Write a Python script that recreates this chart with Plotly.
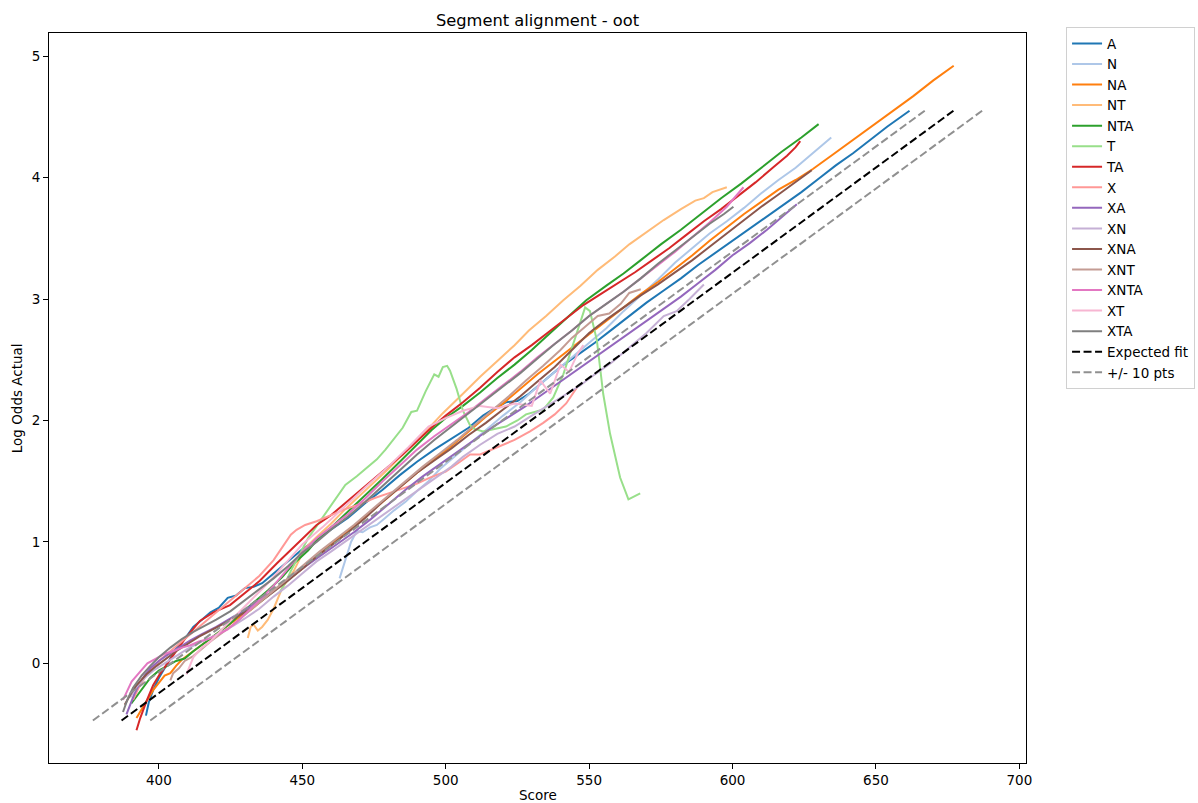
import plotly.graph_objects as go

# ---------------- data (score, log odds actual) ----------------
A_pts = [(395.5,-0.43),(396.5,-0.32),(398,-0.22),(400,-0.12),(402,-0.04),(404,0.04),(406,0.12),(409,0.20),
         (412,0.30),(415,0.36),(418,0.42),(421,0.46),(424,0.54),(427,0.56),(430,0.62),(433,0.63),(436,0.66),
         (440,0.74),(445,0.84),(450,0.94),(455,1.02),(460,1.10),(466,1.20),(472,1.32),(478,1.43),(484,1.55),
         (490,1.66),(496,1.76),(502,1.85),(508,1.94),(513,2.04),(517,2.10),(521,2.15),(525,2.16),(529,2.22),
         (534,2.32),(540,2.44),(546,2.54),(552,2.64),(558,2.75),(564,2.86),(570,2.97),(576,3.07),(582,3.17),
         (588,3.28),(594,3.38),(600,3.48),(606,3.58),(612,3.68),(618,3.78),(624,3.88),(630,3.99),(636,4.10),
         (642,4.20),(648,4.31),(654,4.42),(661.7,4.55)]
N_pts = [(463,0.70),(464,0.78),(465.5,0.90),(467,1.00),(469,1.09),(471,1.08),(473.6,1.12),(476,1.14),
         (479,1.20),(482,1.26),(486,1.33),(490,1.42),(494,1.50),(498,1.60),(502,1.68),(506,1.76),(510,1.84),
         (515,1.94),(520,2.04),(526,2.15),(532,2.28),(538,2.40),(544,2.52),(550,2.64),(556,2.76),(562,2.90),
         (568,3.03),(574,3.16),(580,3.30),(586,3.42),(592,3.54),(598,3.64),(604,3.75),(610,3.87),(616,3.98),
         (622,4.08),(628,4.20),(634.4,4.33)]
NA_pts = [(392.2,-0.45),(393.5,-0.40),(395.7,-0.31),(398,-0.22),(400,-0.16),(402,-0.10),(404,-0.08),(406,-0.02),
          (408,0.03),(410.2,0.07),(413,0.12),(416,0.17),(420,0.24),(424,0.31),(428,0.38),(432,0.44),(436,0.52),
          (440,0.60),(445,0.69),(450,0.78),(455,0.88),(460,0.98),(466,1.09),(472,1.21),(478,1.33),(484,1.45),
          (490,1.57),(496,1.68),(502,1.79),(508,1.91),(514,2.03),(520,2.14),(526,2.26),(532,2.38),(538,2.49),
          (544,2.60),(550,2.71),(556,2.82),(562,2.93),(568,3.04),(574,3.14),(580,3.25),(586,3.36),(592,3.48),
          (598,3.59),(604,3.70),(610,3.80),(616,3.90),(622,3.98),(628,4.07),(635,4.19),(642,4.31),(649,4.43),
          (656,4.55),(663,4.67),(670,4.80),(677.1,4.92)]
NT_pts = [(431,0.21),(432,0.30),(433,0.32),(434.5,0.27),(436,0.30),(438,0.36),(440,0.45),(443,0.62),
          (447,0.76),(451,0.95),(455,1.04),(460,1.15),(465,1.27),(470,1.38),(475,1.49),(480,1.60),(485,1.72),
          (490,1.83),(495,1.96),(499,2.06),(506,2.22),(512,2.36),(518,2.49),(524,2.62),(529,2.74),(535,2.86),
          (541,2.99),(547,3.11),(553,3.24),(559,3.35),(564,3.45),(570,3.55),(576,3.65),(582,3.74),(587,3.81),
          (590,3.83),(593,3.88),(598,3.92)]
NTA_pts = [(390.4,-0.33),(392,-0.28),(394,-0.22),(397,-0.12),(400,-0.06),(403,-0.02),(406,0.02),(409,0.04),
           (412,0.10),(416,0.17),(420,0.24),(425,0.33),(429,0.42),(434,0.52),(438,0.60),(443,0.71),(447,0.82),
           (452,0.93),(456,1.04),(461,1.14),(466,1.25),(472,1.38),(478,1.52),(484,1.66),(490,1.80),(495,1.92),
           (500,2.02),(506,2.12),(512,2.23),(518,2.35),(524,2.46),(530,2.58),(535,2.69),(542,2.84),(549,2.99),
           (556,3.11),(562,3.21),(568,3.32),(575,3.45),(582,3.57),(589,3.70),(596,3.83),(603,3.95),(610,4.08),
           (617,4.21),(624,4.33),(630,4.44)]
T_pts = [(442,0.58),(444,0.66),(446,0.76),(449,0.90),(452,1.03),(455,1.13),(458,1.23),(462,1.36),(465,1.47),
         (469,1.54),(472,1.60),(476,1.68),(479,1.76),(482,1.85),(485,1.94),(488,2.07),(490,2.08),(493,2.24),
         (496,2.38),(497.5,2.36),(499,2.44),(500.5,2.45),(501.5,2.41),(503.8,2.26),(506,2.08),(508.5,1.96),
         (510,1.93),(513,1.91),(517,1.93),(521,1.95),(525,2.00),(528,2.05),(534,2.09),(537.5,2.19),(541,2.38),
         (544.5,2.63),(547.4,2.85),(548.6,2.93),(550.3,2.90),(552.7,2.66),(554.9,2.22),(557.3,1.89),
         (560.8,1.53),(563.7,1.35),(567.8,1.40)]
TA_pts = [(392.2,-0.55),(393.5,-0.45),(395.7,-0.31),(398,-0.18),(400.3,-0.09),(403,0.00),(405,0.07),(409,0.20),
          (414.3,0.35),(419,0.42),(424.8,0.48),(430,0.58),(435.2,0.68),(441,0.82),(446.8,0.95),(451,1.05),
          (455,1.14),(460,1.22),(465,1.32),(470,1.42),(475,1.52),(480,1.62),(485,1.72),(490,1.83),(495,1.94),
          (500,2.04),(506,2.15),(512,2.27),(518,2.40),(524,2.52),(530,2.62),(536,2.73),(542,2.84),(548,2.95),
          (554,3.04),(560,3.13),(566,3.22),(572,3.32),(578,3.42),(584,3.53),(590,3.64),(596,3.74),(602,3.85),
          (608,3.96),(614,4.08),(619,4.18),(622,4.25),(623.6,4.30)]
X_pts = [(391,-0.30),(393,-0.20),(396,-0.08),(400,0.02),(405,0.12),(410,0.22),(415,0.32),(420,0.42),(425,0.52),
         (430,0.62),(435,0.72),(440,0.85),(443,0.95),(446,1.06),(448,1.10),(451,1.14),(455,1.17),(460,1.22),
         (465,1.27),(470,1.31),(475,1.36),(480,1.40),(485,1.44),(490,1.48),(494.5,1.53),(500,1.58),(505,1.66),
         (508.5,1.72),(512,1.72),(516,1.76),(520,1.80),(524,1.84),(529.4,1.91),(534,1.98),(538,2.05),(542,2.14),
         (545.7,2.27)]
XA_pts = [(388.7,-0.42),(390,-0.34),(391.5,-0.25),(393,-0.18),(395,-0.10),(397,-0.04),(400,0.02),(403,0.07),
          (407,0.13),(411,0.19),(415,0.24),(420,0.30),(425,0.37),(430,0.44),(435,0.52),(440,0.60),(445,0.69),
          (450,0.78),(456,0.88),(462,0.98),(468,1.08),(474,1.19),(480,1.31),(486,1.43),(492,1.54),(498,1.64),
          (504,1.74),(510,1.84),(516,1.94),(522,2.03),(528,2.12),(534,2.22),(540,2.32),(546,2.42),(552,2.52),
          (558,2.62),(564,2.72),(570,2.82),(576,2.92),(582,3.02),(588,3.13),(594,3.24),(600,3.36),(606,3.46),
          (612,3.57),(618,3.69),(622.4,3.78)]
XN_pts = [(390,-0.28),(392,-0.20),(395,-0.12),(398,-0.06),(402,0.00),(406,0.06),(410,0.12),(414,0.17),(418,0.21),
          (422,0.26),(426,0.31),(430,0.37),(435,0.45),(440,0.55),(445,0.64),(450,0.74),(455,0.84),(460,0.92),
          (466,1.02),(472,1.12),(478,1.22),(484,1.32),(490,1.42),(496,1.52),(502,1.62),(506,1.70),(512,1.80),
          (518,1.89),(524,1.95),(530,2.04),(536,2.13),(542,2.22),(547,2.29),(552,2.38),(558,2.48),(564,2.60),
          (570,2.72),(576,2.86),(580.5,2.90),(585,3.00),(590,3.12)]
XNA_pts = [(388.1,-0.34),(390,-0.26),(392.2,-0.18),(395.7,-0.09),(399.2,-0.02),(402.7,0.04),(406,0.10),(410,0.16),
           (414,0.22),(418,0.27),(422,0.32),(426,0.37),(430,0.42),(435,0.50),(440,0.59),(445,0.68),(450,0.78),
           (455,0.88),(460,0.97),(466,1.08),(472,1.20),(478,1.33),(484,1.45),(490,1.57),(496,1.67),(502,1.77),
           (508,1.88),(514,1.98),(520,2.09),(526,2.20),(532,2.32),(538,2.44),(544,2.58),(550,2.72),(556,2.83),
           (562,2.93),(568,3.03),(574,3.12),(580,3.22),(586,3.32),(592,3.43),(598,3.54),(604,3.65),(610,3.76),
           (616,3.86),(622,3.96),(627.6,4.06)]
XNT_pts = [(404,-0.14),(405,-0.08),(407,-0.04),(409,0.02),(412,0.06),(415,0.12),(418,0.18),(422,0.25),(426,0.32),
           (430,0.40),(435,0.50),(440,0.60),(445,0.70),(450,0.80),(456,0.92),(462,1.03),(468,1.14),(474,1.26),
           (480,1.38),(486,1.50),(492,1.62),(498,1.73),(504,1.84),(510,1.96),(516,2.08),(522,2.20),(528,2.33),
           (534,2.45),(540,2.58),(544,2.68),(548,2.76),(553,2.86),(557,2.88),(561,2.96),(564,3.05),(568,3.08)]
XNTA_pts = [(387.5,-0.30),(389,-0.22),(390.5,-0.15),(393.4,-0.07),(396,0.00),(399,0.04),(402,0.08),(405,0.10),
            (408,0.13),(411,0.15),(414,0.18),(417,0.20),(420,0.23),(424,0.28),(428,0.36),(432,0.45),(436,0.54),
            (440,0.64),(445,0.78),(450,0.92),(455,1.03),(460,1.12),(466,1.23),(472,1.36),(478,1.50),(484,1.63),
            (490,1.76),(496,1.87),(502,1.97),(508,2.07),(514,2.18),(520,2.29),(526,2.40),(532,2.52),(538,2.63),
            (544,2.74),(550,2.86),(556,2.96),(562,3.06),(568,3.17),(574,3.28),(580,3.39),(586,3.51),(592,3.63),
            (598,3.76),(603.8,3.92)]
XT_pts = [(409.6,-0.09),(412,0.05),(415,0.13),(418,0.18),(422,0.28),(427,0.40),(432,0.52),(438,0.66),(444,0.82),
          (450,0.98),(457,1.12),(465,1.30),(472,1.45),(480,1.62),(487,1.78),(494,1.95),(500,2.02),(506,2.08),
          (512,2.12),(518,2.10),(524,2.14),(530,2.12),(533,2.33),(536.4,2.22),(538.7,2.38),(540,2.46),(543,2.40),
          (546,2.55),(548,2.62)]
XTA_pts = [(387.5,-0.40),(389,-0.30),(391,-0.20),(394,-0.10),(397,-0.02),(400,0.05),(404,0.13),(408,0.20),
           (412,0.26),(416,0.31),(420,0.36),(425,0.43),(430,0.52),(435,0.61),(440,0.70),(445,0.80),(450,0.91),
           (455,1.00),(460,1.10),(466,1.21),(472,1.33),(478,1.46),(484,1.59),(490,1.72),(496,1.84),(502,1.95),
           (508,2.06),(514,2.17),(520,2.28),(526,2.39),(532,2.51),(538,2.63),(544,2.74),(550,2.86),(556,2.96),
           (562,3.06),(568,3.17),(574,3.29),(580,3.40),(586,3.51),(592,3.62),(597,3.70),(600.3,3.76)]

segment_names = ["A", "N", "NA", "NT", "NTA", "T", "TA", "X", "XA", "XN", "XNA", "XNT", "XNTA", "XT", "XTA"]
segment_points = [A_pts, N_pts, NA_pts, NT_pts, NTA_pts, T_pts, TA_pts, X_pts, XA_pts, XN_pts,
                  XNA_pts, XNT_pts, XNTA_pts, XT_pts, XTA_pts]
segment_colors = ["#1f77b4", "#aec7e8", "#ff7f0e", "#ffbb78", "#2ca02c", "#98df8a", "#d62728", "#ff9896",
                  "#9467bd", "#c5b0d5", "#8c564b", "#c49c94", "#e377c2", "#f7b6d2", "#7f7f7f"]

expected_score = [387, 677]
expected_logodds = [-0.47, 4.55]
band_offset = 10
x_ticks = [400, 450, 500, 550, 600, 650, 700]
y_ticks = [0, 1, 2, 3, 4, 5]

# ---------------- figure ----------------
FONT = "DejaVu Sans"
fig = go.Figure()
for name, pts, col in zip(segment_names, segment_points, segment_colors):
    fig.add_trace(go.Scatter(x=[p[0] for p in pts], y=[p[1] for p in pts], mode="lines", name=name,
                             line=dict(color=col, width=2)))

fig.add_trace(go.Scatter(x=expected_score, y=expected_logodds, mode="lines", name="Expected fit",
                         line=dict(color="black", width=2, dash="8px,3.5px")))
fig.add_trace(go.Scatter(x=[s - band_offset for s in expected_score], y=expected_logodds, mode="lines",
                         name="+/- 10 pts", line=dict(color="#909090", width=2, dash="8px,3.5px")))
fig.add_trace(go.Scatter(x=[s + band_offset for s in expected_score], y=expected_logodds, mode="lines",
                         name="+/- 10 pts", showlegend=False,
                         line=dict(color="#909090", width=2, dash="8px,3.5px")))

axis_common = dict(showline=True, linecolor="black", linewidth=1, mirror=True, showgrid=False,
                   zeroline=False, ticks="outside", ticklen=5, tickcolor="black", tickwidth=1,
                   automargin=False, tickfont=dict(family=FONT, size=13.5, color="black"))
fig.update_layout(
    width=1198, height=803, autosize=False,
    margin=dict(l=49, r=172, t=33, b=40, autoexpand=False),
    paper_bgcolor="white", plot_bgcolor="white",
    font=dict(family=FONT, size=13.5, color="black"),
    title=dict(text="Segment alignment - oot", x=0.5, xref="paper", xanchor="center",
               y=1 - 20 / 803, yref="container", yanchor="middle",
               font=dict(family=FONT, size=16.3, color="black")),
    xaxis=dict(range=[361.7, 702.3], tickvals=x_ticks, **axis_common),
    yaxis=dict(range=[-0.82, 5.19], tickvals=y_ticks, **axis_common),
    legend=dict(x=1.041, y=1.008, xanchor="left", yanchor="top", bgcolor="white",
                bordercolor="#d0d0d0", borderwidth=1, font=dict(family=FONT, size=13.5, color="black"),
                itemwidth=30, tracegroupgap=0),
    showlegend=True,
    annotations=[
        dict(text="Score", xref="paper", yref="paper", x=0.5, y=-31.5 / 730, xanchor="center",
             yanchor="middle", showarrow=False, font=dict(family=FONT, size=13.5, color="black")),
        dict(text="Log Odds Actual", xref="paper", yref="paper", x=-31.8 / 976.4, y=0.5, xanchor="center",
             yanchor="middle", textangle=-90, showarrow=False,
             font=dict(family=FONT, size=13.5, color="black")),
    ],
)

fig.write_html("out.html")
